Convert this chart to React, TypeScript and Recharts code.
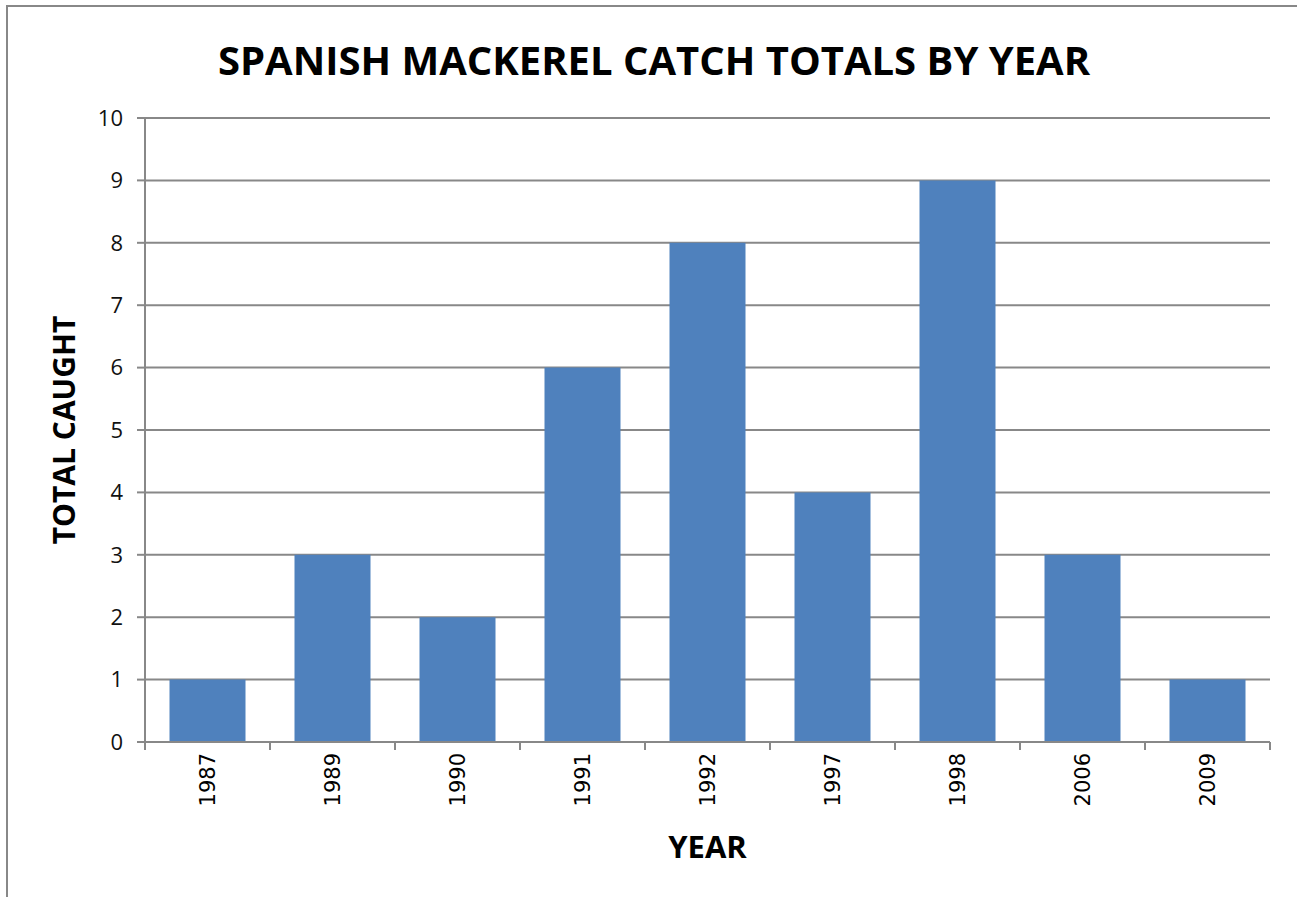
import { BarChart, Bar, XAxis, YAxis, CartesianGrid, Label } from 'recharts';

const years = ['1987', '1989', '1990', '1991', '1992', '1997', '1998', '2006', '2009'];
const totals = [1, 3, 2, 6, 8, 4, 9, 3, 1];
const yTicks = [0, 1, 2, 3, 4, 5, 6, 7, 8, 9, 10];

const data = years.map((year, i) => ({ year, total: totals[i] }));

const W = 1297;
const H = 897;
const margin = { top: 118, right: 27, left: 0, bottom: 0 };
const yAxisWidth = 145;
const axisColor = '#888888';
const barColor = '#4F81BD';

const halfBand = (W - margin.left - margin.right - yAxisWidth) / years.length / 2;

function YearTick(props: any) {
  const { x, y, payload, index } = props;
  return (
    <g>
      <line x1={x - halfBand} y1={y} x2={x - halfBand} y2={y + 8} stroke={axisColor} strokeWidth={2} />
      {index === years.length - 1 && (
        <line x1={x + halfBand} y1={y} x2={x + halfBand} y2={y + 8} stroke={axisColor} strokeWidth={2} />
      )}
      <text
        x={x}
        y={y + 11}
        transform={`rotate(-90 ${x} ${y + 11})`}
        textAnchor="end"
        dominantBaseline="central"
        fontFamily="DejaVu Sans"
        fontSize={21}
        fill="#000"
      >
        {payload.value}
      </text>
    </g>
  );
}

export default function App() {
  return (
    <div style={{ position: 'absolute', left: 0, top: 0, width: W, height: H, background: '#fff' }}>
      <div
        style={{
          position: 'absolute',
          left: 6,
          top: 5,
          width: W,
          height: H,
          borderLeft: '2px solid #888',
          borderTop: '2px solid #888',
        }}
      />
      <div
        style={{
          position: 'absolute',
          left: 0,
          top: 33,
          width: 1308,
          textAlign: 'center',
          fontFamily: '"Open Sans", sans-serif',
          fontWeight: 700,
          fontSize: 40,
          color: '#000',
          lineHeight: '54px',
        }}
      >
        SPANISH MACKEREL CATCH TOTALS BY YEAR
      </div>
      <BarChart width={W} height={H} data={data} margin={margin} barCategoryGap="19.6%" style={{ position: 'absolute', left: 0, top: 0 }}>
        <CartesianGrid vertical={false} stroke={axisColor} strokeWidth={2} />
        <XAxis
          dataKey="year"
          height={155}
          stroke={axisColor}
          strokeWidth={2}
          tickLine={false}
          tickSize={0}
          tickMargin={0}
          interval={0}
          tick={<YearTick />}
        >
          <Label
            value="YEAR"
            position="insideTop"
            offset={94}
            style={{ fontFamily: '"Open Sans", sans-serif', fontWeight: 700, fontSize: 31, fill: '#000' }}
          />
        </XAxis>
        <YAxis
          width={yAxisWidth}
          domain={[0, 10]}
          ticks={yTicks}
          interval={0}
          stroke={axisColor}
          strokeWidth={2}
          tickSize={8}
          tickMargin={14}
          tick={{ fontFamily: '"Open Sans", sans-serif', fontSize: 22, fill: '#111' }}
        >
          <Label
            value="TOTAL CAUGHT"
            angle={-90}
            position="insideLeft"
            offset={64}
            style={{ textAnchor: 'middle', fontFamily: '"Open Sans", sans-serif', fontWeight: 700, fontSize: 30, fill: '#000' }}
          />
        </YAxis>
        <Bar dataKey="total" fill={barColor} isAnimationActive={false} />
      </BarChart>
    </div>
  );
}
